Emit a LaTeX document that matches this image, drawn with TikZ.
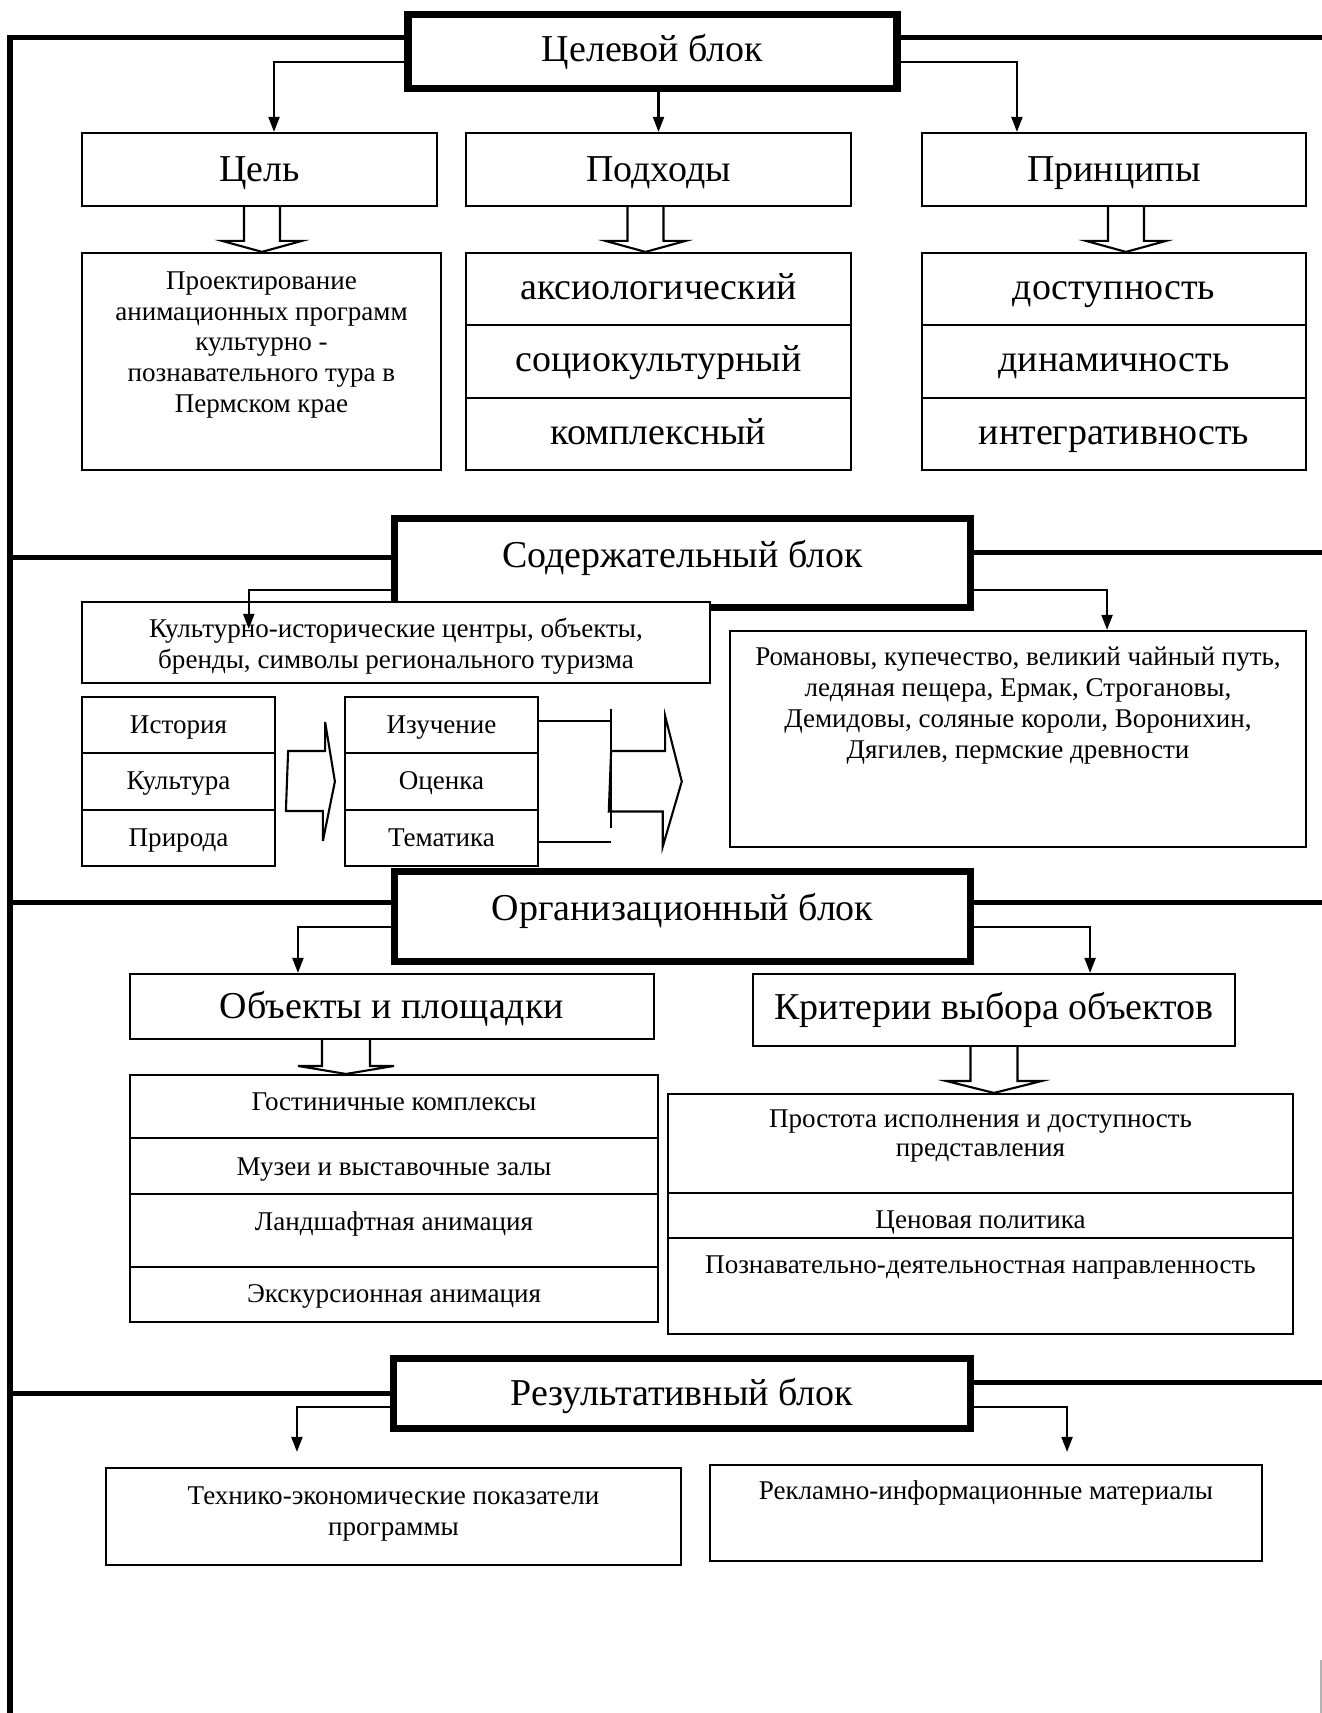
\documentclass[tikz,border=0pt]{standalone}
\usepackage{fontspec}
\setmainfont{Liberation Serif}
\usetikzlibrary{arrows.meta,calc}

\begin{document}
\begin{tikzpicture}[
    x=0.01cm, y=-0.01cm,
    frame/.style={line width=0.05cm},
    blok/.style={draw, line width=0.075cm, fill=white, inner sep=0pt,
      font=\fontsize{10.8}{12.4}\selectfont},
    box/.style={draw, line width=0.6pt, fill=white, inner sep=0pt, align=center,
      font=\fontsize{10.8}{12.4}\selectfont},
    head/.style={box, text height=0.30cm, text depth=0.06cm},
    cell/.style={box, text height=0.30cm, text depth=0.09cm},
    sbox/.style={box, font=\fontsize{7.7}{8.8}\selectfont},
    scell/.style={sbox, text height=0.2cm, text depth=0.035cm},
    stext/.style={inner sep=0pt, align=center, font=\fontsize{7.7}{8.8}\selectfont},
    arr/.style={line width=0.6pt, -{Triangle[length=0.15cm, width=0.11cm]}},
    hollow/.style={draw, line width=0.6pt, fill=white}]

  \useasboundingbox (0,0) rectangle (1322,1713);

  % Целевой блок
  \node[blok, minimum width=4.89cm, minimum height=0.735cm] (tsel) at (652.5,51.5) {Целевой блок};
  \node[head, minimum width=3.55cm, minimum height=0.73cm] (cel) at (259.5,169.5) {Цель};
  \node[head, minimum width=3.85cm, minimum height=0.73cm] (pod) at (658.5,169.5) {Подходы};
  \node[head, minimum width=3.84cm, minimum height=0.73cm] (prin) at (1114,169.5) {Принципы};

  \node[box, minimum width=3.59cm, minimum height=2.17cm] (celbox) at (261.5,361.5) {};
  \node[stext] (celtxt) at (261.5,345) {Проектирование\\анимационных программ\\культурно -\\познавательного тура в\\Пермском крае};

  \foreach \t [count=\i] in {аксиологический, социокультурный, комплексный}{
    \node[cell, minimum width=3.85cm, minimum height=0.7233cm] (pod\i) at (658.5,{253+72.33*\i-36.17}) {\t};
  }
  \foreach \t [count=\i] in {доступность, динамичность, интегративность}{
    \node[cell, minimum width=3.84cm, minimum height=0.7233cm] (prin\i) at (1114,{253+72.33*\i-36.17}) {\t};
  }

  \draw[arr] ([yshift=-0.105cm]tsel.west) -| ([xshift=0.145cm]cel.north);
  \draw[arr] (tsel.south -| pod.north) -- (pod.north);
  \draw[arr] ([yshift=-0.105cm]tsel.east) -| ([xshift=-0.97cm]prin.north);

  \foreach \a/\b/\dx/\sw/\hw/\lh in {cel/celbox/0.5/18/40/11, pod/pod1/-13/18/40/11, prin/prin1/12/18/40/11}{
    \draw[hollow] ($(\a.south -| \b.north)+(\dx-\sw,0)$) -- ($(\b.north)+(\dx-\sw,-\lh)$) -- ++({\sw-\hw},0)
      -- ($(\b.north)+(\dx,0)$) -- ($(\b.north)+(\dx+\hw,-\lh)$) -- ++({\sw-\hw},0)
      -- ($(\a.south -| \b.north)+(\dx+\sw,0)$);
  }

  % Содержательный блок
  \node[blok, minimum width=5.755cm, minimum height=0.885cm, text height=0.26cm, text depth=0.173cm] (sod) at (682.5,563) {Содержательный блок};
  \node[sbox, minimum width=6.28cm, minimum height=0.81cm] (kult) at (396,642.5) {};
  \node[stext] (kulttxt) at (396,646) {Культурно-исторические центры, объекты,\\бренды, символы регионального туризма};
  \coordinate (kultin) at ($(kult.north west)+(168,28)$);

  \foreach \t [count=\i] in {История, Культура, Природа}{
    \node[scell, minimum width=1.93cm, minimum height=0.5633cm] (ist\i) at (178.5,{697+56.33*\i-28.17}) {\t};
  }
  \foreach \t [count=\i] in {Изучение, Оценка, Тематика}{
    \node[scell, minimum width=1.93cm, minimum height=0.5633cm] (izu\i) at (441.5,{697+56.33*\i-28.17}) {\t};
  }

  \node[sbox, minimum width=5.76cm, minimum height=2.16cm] (rom) at (1018,739) {};
  \node[stext] (romtxt) at (1018,706) {Романовы, купечество, великий чайный путь,\\ледяная пещера, Ермак, Строгановы,\\Демидовы, соляные короли, Воронихин,\\Дягилев, пермские древности};

  \draw[arr] ([yshift=-0.27cm]sod.west) -| (kultin);
  \draw[arr] ([yshift=-0.27cm]sod.east) -| ([xshift=0.89cm]rom.north);

  \draw[hollow] ($(ist2.east)+(12,-30.5)$) -- ++(37,0) -- ++(0,-29) -- ($(izu2.west)+(-9,0)$)
    -- ++(-12,59.5) -- ++(0,-30) -- ++(-37,0) -- cycle;

  \draw[line width=0.6pt] ([yshift=0.04cm]izu1.east) -- ++(72,0);
  \draw[line width=0.6pt] ([yshift=-0.04cm]izu3.east) -- ++(72,0);
  \draw[hollow] ($(izu2.east)+(72,-30.5)$) -- ++(54,0) -- ++(0,-35) -- ($(rom.west |- izu2.east)+(-47,0)$)
    -- ++(-19,65) -- ++(0,-35) -- ++(-54,0) -- cycle;
  \draw[line width=0.6pt] ($(izu1.east)+(72,-16)$) -- ($(izu3.east)+(72,-10)$);

  % Организационный блок
  \node[blok, minimum width=5.755cm, minimum height=0.895cm, text height=0.26cm, text depth=0.173cm] (org) at (682.5,916.5) {Организационный блок};
  \node[head, minimum width=5.24cm, minimum height=0.65cm] (obj) at (392,1006.5) {Объекты и площадки};
  \node[box, minimum width=4.82cm, minimum height=0.72cm] (krit) at (994,1010) {Критерии выбора объектов};

  \foreach \ya/\yb/\yt/\t [count=\i] in {1075/1138/1102/Гостиничные комплексы, 1138/1194/1170/Музеи и выставочные залы,
      1194/1267/1224/Ландшафтная анимация, 1267/1322/1296/Экскурсионная анимация}{
    \node[sbox, minimum width=5.28cm, minimum height={(\yb-\ya)*0.01cm}] (obj\i) at (394,{(\ya+\yb)/2}) {};
    \node[stext] (objt\i) at (394,\yt) {\t};
  }
  \foreach \ya/\yb/\yt/\t [count=\i] in {1094/1193/1136/{Простота исполнения и доступность\\представления},
      1193/1238/1223/Ценовая политика, 1238/1334/1268/Познавательно-деятельностная направленность}{
    \node[sbox, minimum width=6.25cm, minimum height={(\yb-\ya)*0.01cm}] (krit\i) at (980.5,{(\ya+\yb)/2}) {};
    \node[stext, font=\fontsize{7.7}{8.1}\selectfont] (kritt\i) at (980.5,\yt) {\t};
  }

  \draw[arr] ([yshift=-0.105cm]org.west) -| ([xshift=-0.94cm]obj.north);
  \draw[arr] ([yshift=-0.105cm]org.east) -| ([xshift=0.96cm]krit.north);

  \foreach \a/\b/\dx/\sw/\hw/\lh in {obj/obj1/-48/24/48/8, krit/krit1/13.5/23.5/48/12}{
    \draw[hollow] ($(\a.south -| \b.north)+(\dx-\sw,0)$) -- ($(\b.north)+(\dx-\sw,-\lh)$) -- ++({\sw-\hw},0)
      -- ($(\b.north)+(\dx,0)$) -- ($(\b.north)+(\dx+\hw,-\lh)$) -- ++({\sw-\hw},0)
      -- ($(\a.south -| \b.north)+(\dx+\sw,0)$);
  }

  % Результативный блок
  \node[blok, minimum width=5.765cm, minimum height=0.695cm, text height=0.3cm, text depth=0.06cm] (res) at (682,1393.5) {Результативный блок};
  \node[sbox, minimum width=5.75cm, minimum height=0.97cm] (tech) at (393.5,1516.5) {};
  \node[stext] (techtxt) at (393.5,1514) {Технико-экономические показатели\\программы};
  \node[sbox, minimum width=5.52cm, minimum height=0.96cm] (rek) at (986,1513) {};
  \node[stext] (rekt) at (986,1493) {Рекламно-информационные материалы};

  \draw[arr, shorten >=0.15cm] ([yshift=-0.135cm]res.west) -| ([xshift=-0.965cm]tech.north);
  \draw[arr, shorten >=0.12cm] ([yshift=-0.135cm]res.east) -| ([xshift=0.81cm]rek.north);

  % frame
  \draw[frame] (tsel.west |- 0,38) -- (10,38) -- (10,1713);
  \draw[frame] (tsel.east |- 0,38) -- (1322,38);
  \draw[frame] (sod.west |- 0,558) -- (10,558);
  \draw[frame] (sod.east |- 0,553) -- (1322,553);
  \draw[frame] (org.west |- 0,902) -- (10,902);
  \draw[frame] (org.east |- 0,902) -- (1322,902);
  \draw[frame] (res.west |- 0,1393) -- (10,1393);
  \draw[frame] (res.east |- 0,1382) -- (1322,1382);
  \draw[black!30, line width=0.3pt] (1321,1660) -- (1321,1713);
\end{tikzpicture}
\end{document}
